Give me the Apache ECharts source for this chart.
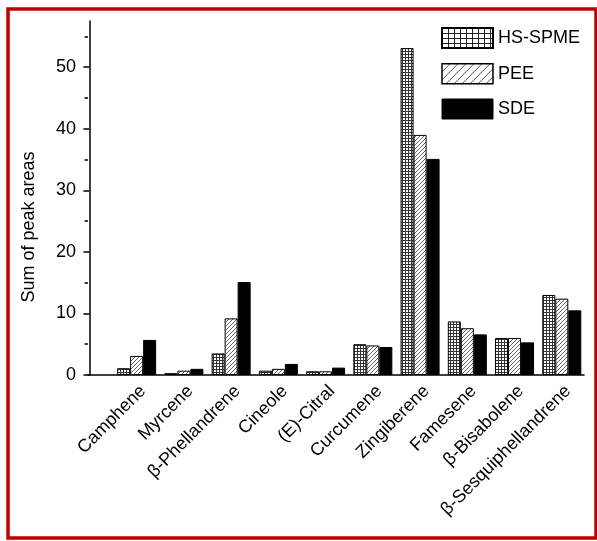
<!DOCTYPE html>
<html>
<head>
<meta charset="utf-8">
<script src="https://cdn.jsdelivr.net/npm/echarts@6/dist/echarts.min.js"></script>
<style>
html,body{margin:0;padding:0;background:#fff;}
#chart{width:597px;height:541px;}
</style>
</head>
<body>
<div id="chart"></div>
<script>
const categories = ['Camphene','Myrcene','β-Phellandrene','Cineole','(E)-Citral','Curcumene','Zingiberene','Famesene','β-Bisabolene','β-Sesquiphellandrene'];
const seriesNames = ['HS-SPME','PEE','SDE'];
const hsSpme = [1.1, 0.3, 3.5, 0.7, 0.6, 5.0, 53.1, 8.7, 6.0, 13.0];
const pee    = [3.1, 0.7, 9.2, 1.0, 0.6, 4.8, 39.0, 7.6, 6.0, 12.4];
const sde    = [5.7, 1.0, 15.1, 1.8, 1.2, 4.55, 35.1, 6.6, 5.3, 10.5];
const yMajorTicks = [0, 10, 20, 30, 40, 50];
const yMinorTicks = [5, 15, 25, 35, 45, 55];
const yAxisTitle = 'Sum of peak areas';

function gridPattern(w, h, col) {
  const c = document.createElement('canvas');
  c.width = w; c.height = h;
  const g = c.getContext('2d');
  g.fillStyle = '#fff'; g.fillRect(0, 0, w, h);
  g.fillStyle = col;
  g.fillRect(0, 0, w, 1);
  g.fillRect(0, 0, 1, h);
  return c;
}
function hatchPattern(s, col) {
  const c = document.createElement('canvas');
  c.width = s; c.height = s;
  const g = c.getContext('2d');
  g.fillStyle = '#fff'; g.fillRect(0, 0, s, s);
  g.strokeStyle = col; g.lineWidth = 1;
  g.beginPath();
  g.moveTo(-1, s + 1); g.lineTo(s + 1, -1);
  g.moveTo(-1, 1); g.lineTo(1, -1);
  g.moveTo(s - 1, s + 1); g.lineTo(s + 1, s - 1);
  g.stroke();
  return c;
}
const gridFill = { image: gridPattern(3, 3, '#333'), repeat: 'repeat' };
const hatchFill = { image: hatchPattern(4, '#666'), repeat: 'repeat' };
const gridFillLegend = { image: gridPattern(6, 5, '#222'), repeat: 'repeat' };
const hatchFillLegend = { image: hatchPattern(8, '#555'), repeat: 'repeat' };

const font = "'Liberation Sans', Arial, sans-serif";
const chart = echarts.init(document.getElementById('chart'), null, { renderer: 'canvas' });

function mk(name, vals, fill) {
  return {
    name: name,
    type: 'bar',
    xAxisIndex: 0,
    yAxisIndex: 0,
    barWidth: 13,
    barGap: '0%',
    itemStyle: { color: fill, borderColor: '#000', borderWidth: 1 },
    emphasis: { disabled: true },
    data: vals.map((v, i) => [i + 1, v])
  };
}

chart.setOption({
  backgroundColor: '#fff',
  animation: false,
  textStyle: { fontFamily: font },
  grid: { left: 88, right: 13, top: 21, bottom: 166, containLabel: false },
  legend: {
    orient: 'vertical',
    left: 441,
    top: 27,
    padding: 0,
    itemWidth: 51,
    itemHeight: 20,
    itemGap: 14,
    icon: 'rect',
    textStyle: { fontSize: 18, color: '#000', fontFamily: font },
    data: [
      { name: 'HS-SPME', itemStyle: { color: gridFillLegend, borderColor: '#000', borderWidth: 2 } },
      { name: 'PEE', itemStyle: { color: hatchFillLegend, borderColor: '#000', borderWidth: 1.5 } },
      { name: 'SDE', itemStyle: { color: '#000', borderColor: '#000', borderWidth: 1 } }
    ]
  },
  xAxis: {
    type: 'value',
    min: -0.03,
    max: 10.47,
    splitLine: { show: false },
    axisLine: { show: true, lineStyle: { color: '#000', width: 1.5 } },
    axisTick: { show: false },
    axisLabel: {
      customValues: categories.map((c, i) => i + 1),
      formatter: v => categories[Math.round(v) - 1] || '',
      rotate: 45,
      verticalAlign: 'top',
      fontSize: 18,
      color: '#000',
      margin: 7,
      fontFamily: font
    }
  },
  yAxis: [
    {
      type: 'value',
      min: 0,
      max: 57.5,
      position: 'left',
      splitLine: { show: false },
      axisLine: { show: true, lineStyle: { color: '#000', width: 1.5 } },
      axisTick: { show: true, customValues: yMajorTicks, length: 6, lineStyle: { color: '#000', width: 1.5 } },
      axisLabel: { customValues: yMajorTicks, fontSize: 18, color: '#000', margin: 12, fontFamily: font }
    },
    {
      type: 'value',
      min: 0,
      max: 57.5,
      position: 'left',
      offset: 0,
      splitLine: { show: false },
      axisLine: { show: false },
      axisTick: { show: true, customValues: yMinorTicks, length: 3.5, lineStyle: { color: '#000', width: 1.5 } },
      axisLabel: { show: false }
    }
  ],
  graphic: [
    {
      type: 'rect',
      shape: { x: 8, y: 9, width: 588, height: 529 },
      style: { fill: 'none', stroke: '#c00000', lineWidth: 3.5 },
      silent: true, z: 100
    },
    {
      type: 'text',
      x: 29,
      y: 227,
      rotation: Math.PI / 2,
      style: { text: yAxisTitle, fontSize: 18, fill: '#000', fontFamily: font, align: 'center', verticalAlign: 'middle' },
      silent: true
    }
  ],
  series: [
    mk(seriesNames[0], hsSpme, gridFill),
    mk(seriesNames[1], pee, hatchFill),
    mk(seriesNames[2], sde, '#000')
  ]
});
</script>
</body>
</html>
